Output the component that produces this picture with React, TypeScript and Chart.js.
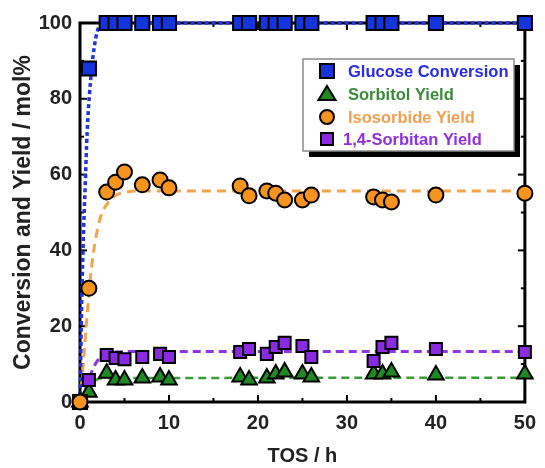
import React, { useEffect, useRef } from "react";
import { Chart, registerables } from "chart.js";

Chart.register(...registerables);

// ---- data ----
const tos = [0, 1, 3, 4, 5, 7, 9, 10, 18, 19, 21, 22, 23, 25, 26, 33, 34, 35, 40, 50];
const glucoseConversion = [0, 88, 100, 100, 100, 100, 100, 100, 100, 100, 100, 100, 100, 100, 100, 100, 100, 100, 100, 100];
const sorbitolYield = [0, 2.6, 7.6, 5.8, 5.8, 6.3, 6.6, 5.8, 6.6, 5.8, 6.3, 7.4, 7.9, 7.4, 6.6, 7.4, 7.4, 7.9, 7.1, 7.4];
const isosorbideYield = [0, 30, 55.4, 58, 60.7, 57.3, 58.6, 56.5, 57, 54.4, 55.7, 55.1, 53.3, 53.3, 54.6, 54.1, 53.3, 52.8, 54.6, 55.1];
const sorbitanYield = [0, 5.8, 12.4, 11.6, 11.3, 11.9, 12.7, 11.9, 13.2, 14, 12.7, 14.5, 15.6, 14.8, 11.9, 10.8, 14.5, 15.6, 14, 13.2];

// fitted (dashed) curves
const glucoseFitX = [0, 0.2, 0.4, 0.6, 0.8, 1.3, 1.9, 2.5, 3, 50];
const glucoseFitY = [0, 27, 45, 58, 71, 87.6, 97.4, 99.7, 100, 100];
const isosorbideFitX = [0, 0.3, 0.7, 1.3, 2, 2.5, 3.3, 4, 5.2, 7, 50];
const isosorbideFitY = [0, 8, 20, 35.6, 46, 50, 53, 54.5, 55.4, 55.7, 55.7];
const sorbitanFitX = [0, 0.5, 1, 1.5, 2, 3, 4, 6, 50];
const sorbitanFitY = [0, 2.5, 6, 9, 11, 12.8, 13.2, 13.3, 13.3];
const sorbitolFitX = [0, 0.5, 1, 1.5, 2, 3, 50];
const sorbitolFitY = [0, 2, 4, 5.3, 6, 6.3, 6.4];

const xTicks = [0, 10, 20, 30, 40, 50];
const yTicks = [0, 20, 40, 60, 80, 100];
const xMinor = [5, 15, 25, 35, 45];
const yMinor = [10, 30, 50, 70, 90];

const seriesNames = ["Glucose Conversion", "Sorbitol Yield", "Isosorbide Yield", "1,4-Sorbitan Yield"];

const C = {
  glucose: "#1434dc",
  glucoseLine: "#2233e0",
  sorbitol: "#1f8a22",
  sorbitolLine: "#3a9a3a",
  isosorbide: "#f7941d",
  isosorbideLine: "#f2a548",
  sorbitan: "#8a2be2",
  sorbitanLine: "#8f35e6",
  glucoseText: "#2a2ae6",
  sorbitolText: "#3a8a3a",
  isosorbideText: "#f2a050",
  sorbitanText: "#9030e0",
};

const pts = (xs: number[], ys: number[]) => xs.map((x, i) => ({ x, y: ys[i] }));

const frameAndLegend = {
  id: "frameAndLegend",
  beforeDatasetsDraw(chart: any) {
    const { ctx, chartArea: a, scales } = chart;
    const xs = scales.x;
    const ys = scales.y;
    ctx.save();
    ctx.strokeStyle = "#000";
    ctx.lineWidth = 2;
    const tick = (x1: number, y1: number, x2: number, y2: number) => {
      ctx.beginPath();
      ctx.moveTo(x1, y1);
      ctx.lineTo(x2, y2);
      ctx.stroke();
    };
    xTicks.forEach((v) => {
      const p = xs.getPixelForValue(v);
      tick(p, a.bottom, p, a.bottom - 7);
      tick(p, a.top, p, a.top + 7);
    });
    xMinor.forEach((v) => {
      const p = xs.getPixelForValue(v);
      tick(p, a.bottom, p, a.bottom - 4);
      tick(p, a.top, p, a.top + 4);
    });
    yTicks.forEach((v) => {
      const p = ys.getPixelForValue(v);
      tick(a.left, p, a.left + 7, p);
      tick(a.right, p, a.right - 7, p);
    });
    yMinor.forEach((v) => {
      const p = ys.getPixelForValue(v);
      tick(a.left, p, a.left + 4, p);
      tick(a.right, p, a.right - 4, p);
    });
    ctx.lineWidth = 3;
    ctx.strokeRect(a.left, a.top, a.right - a.left, a.bottom - a.top);
    ctx.restore();
  },
  afterDraw(chart: any) {
    const { ctx } = chart;
    ctx.save();
    const bx = 303, by = 59, bw = 211, bh = 92;
    ctx.fillStyle = "#000";
    ctx.fillRect(bx + 6, by + 6, bw, bh);
    ctx.fillStyle = "#fff";
    ctx.fillRect(bx, by, bw, bh);
    ctx.strokeStyle = "#8a8a8a";
    ctx.lineWidth = 1.5;
    ctx.strokeRect(bx, by, bw, bh);

    const mx = 327;
    const rows = [71, 94, 117, 139];
    ctx.lineWidth = 2;
    ctx.strokeStyle = "#000";
    // glucose square
    ctx.fillStyle = C.glucose;
    ctx.fillRect(mx - 7, rows[0] - 7, 14, 14);
    ctx.strokeRect(mx - 7, rows[0] - 7, 14, 14);
    // triangle
    ctx.beginPath();
    ctx.moveTo(mx, rows[1] - 8);
    ctx.lineTo(mx + 8.5, rows[1] + 6);
    ctx.lineTo(mx - 8.5, rows[1] + 6);
    ctx.closePath();
    ctx.fillStyle = C.sorbitol;
    ctx.fill();
    ctx.stroke();
    // circle
    ctx.beginPath();
    ctx.arc(mx, rows[2], 7, 0, Math.PI * 2);
    ctx.fillStyle = C.isosorbide;
    ctx.fill();
    ctx.stroke();
    // purple square
    ctx.fillStyle = C.sorbitan;
    ctx.fillRect(mx - 6, rows[3] - 6, 12, 12);
    ctx.strokeRect(mx - 6, rows[3] - 6, 12, 12);

    ctx.font = "bold 16.5px 'Liberation Sans', Arial, sans-serif";
    ctx.textBaseline = "middle";
    ctx.textAlign = "left";
    const colors = [C.glucoseText, C.sorbitolText, C.isosorbideText, C.sorbitanText];
    const tx = [348, 348, 348, 343];
    seriesNames.forEach((name, i) => {
      ctx.fillStyle = colors[i];
      ctx.fillText(name, tx[i], rows[i] + 1);
    });
    ctx.restore();
  },
};

export default function App() {
  const ref = useRef<HTMLCanvasElement | null>(null);
  useEffect(() => {
    document.body.style.margin = "0";
    const canvas = ref.current;
    if (!canvas) return;
    const fitLine = (xs: number[], ys: number[], color: string, dash: number[], width: number, order: number) => ({
      type: "line" as const,
      data: pts(xs, ys),
      borderColor: color,
      borderWidth: width,
      borderDash: dash,
      pointRadius: 0,
      fill: false,
      cubicInterpolationMode: "monotone" as const,
      clip: false as any,
      order,
    });
    const scatter = (ys: number[], label: string, fill: string, style: string, radius: number, order: number) => ({
      type: "scatter" as const,
      label,
      data: pts(tos, ys),
      backgroundColor: fill,
      borderColor: "#000",
      borderWidth: 2,
      pointStyle: style,
      pointRadius: radius,
      showLine: false,
      clip: false as any,
      order,
    });
    const chart = new Chart(canvas, {
      type: "scatter",
      data: {
        datasets: [
          scatter(isosorbideYield, seriesNames[2], C.isosorbide, "circle", 7.5, 0),
          scatter(glucoseConversion, seriesNames[0], C.glucose, "rect", 10, 1),
          scatter(sorbitanYield, seriesNames[3], C.sorbitan, "rect", 8.5, 2),
          scatter(sorbitolYield, seriesNames[1], C.sorbitol, "triangle", 9, 4),
          fitLine(glucoseFitX, glucoseFitY, C.glucoseLine, [4, 3], 3.5, 5),
          fitLine(isosorbideFitX, isosorbideFitY, C.isosorbideLine, [9, 6], 3, 6),
          fitLine(sorbitanFitX, sorbitanFitY, C.sorbitanLine, [8, 5], 3, 7),
          fitLine(sorbitolFitX, sorbitolFitY, C.sorbitolLine, [8, 5], 2.5, 8),
        ] as any,
      },
      options: {
        animation: false,
        responsive: false,
        maintainAspectRatio: false,
        layout: { padding: { left: 0, right: 14, top: 23, bottom: 0 } },
        plugins: { legend: { display: false }, tooltip: { enabled: false } },
        scales: {
          x: {
            type: "linear",
            min: 0,
            max: 50,
            grid: { display: false, drawTicks: false },
            border: { display: false },
            ticks: {
              stepSize: 10,
              color: "#222",
              font: { family: "'Liberation Sans', Arial, sans-serif", size: 20, weight: "bold" },
              padding: 9,
            },
            title: {
              display: true,
              text: "TOS / h",
              color: "#222",
              font: { family: "'Liberation Sans', Arial, sans-serif", size: 20, weight: "bold" },
              padding: { top: 0, bottom: 0 },
            },
            afterFit: (s: any) => {
              s.height = 66;
            },
          },
          y: {
            type: "linear",
            min: 0,
            max: 100,
            grid: { display: false, drawTicks: false },
            border: { display: false },
            ticks: {
              stepSize: 20,
              color: "#222",
              font: { family: "'Liberation Sans', Arial, sans-serif", size: 20, weight: "bold" },
              padding: 8,
            },
            title: {
              display: true,
              text: "Conversion and Yield / mol%",
              color: "#222",
              font: { family: "'Liberation Sans', Arial, sans-serif", size: 23, weight: "bold" },
              padding: { top: 10, bottom: 0 },
            },
            afterFit: (s: any) => {
              s.width = 80;
            },
          },
        },
      },
      plugins: [frameAndLegend],
    });
    return () => chart.destroy();
  }, []);
  return <canvas ref={ref} width={545} height={468} style={{ display: "block" }} />;
}
